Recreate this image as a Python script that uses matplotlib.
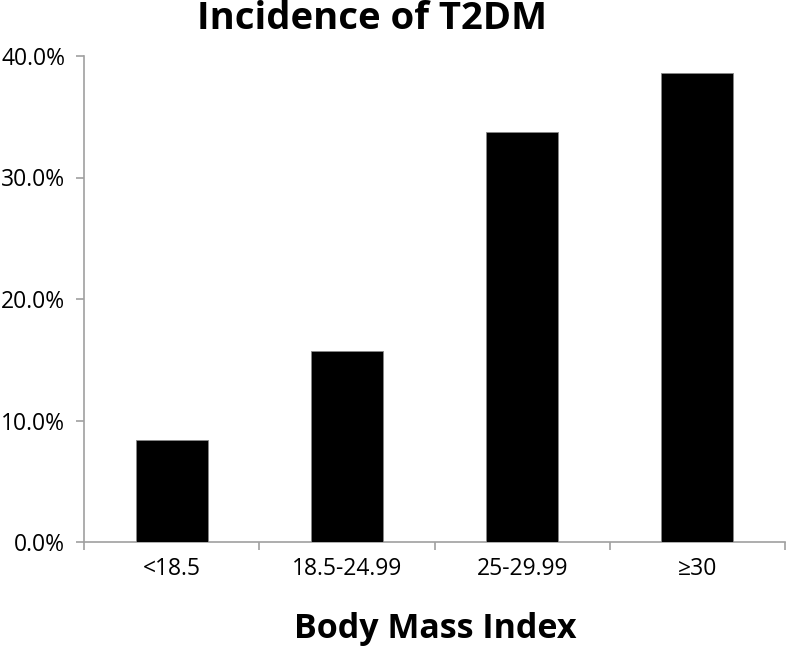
import matplotlib
matplotlib.use("Agg")
import matplotlib.pyplot as plt
from matplotlib.ticker import FuncFormatter, FixedLocator

categories = ["<18.5", "18.5-24.99", "25-29.99", "≥30"]
values = [8.4, 15.7, 33.75, 38.6]
yticks = [0, 10, 20, 30, 40]

plt.rcParams['font.family'] = ['Open Sans', 'DejaVu Sans']

fig = plt.figure(figsize=(7.87, 6.46), dpi=100)
ax = fig.add_axes([84/787, 1-542/646, (785-84)/787, (542-56)/646])

x = list(range(len(categories)))
ax.bar(x, values, width=0.41, color="black", edgecolor="#888888", linewidth=0.6, zorder=3)

ax.set_xlim(-0.5, len(categories)-0.5)
ax.set_ylim(0, 40)
ax.set_yticks(yticks)
ax.yaxis.set_major_formatter(FuncFormatter(lambda v, p: f"{v:.1f}%"))
ax.set_xticks(x)
ax.set_xticklabels(categories, fontsize=16.5)
ax.tick_params(axis='x', which='major', length=0, pad=11)
ax.xaxis.set_minor_locator(FixedLocator([i - 0.5 for i in range(len(categories)+1)]))
ax.tick_params(axis='x', which='minor', length=5.5, color="#A0A0A0", width=1.2)
ax.tick_params(axis='y', length=5.5, color="#A0A0A0", width=1.2, labelsize=16.5, pad=8)

for s in ["top", "right"]:
    ax.spines[s].set_visible(False)
for s in ["left", "bottom"]:
    ax.spines[s].set_color("#A0A0A0")
    ax.spines[s].set_linewidth(1.2)

fig.text(435/787, 1-638/646, "Body Mass Index", fontsize=24.5, fontweight="bold",
         ha="center", va="baseline")
fig.text(372/787, 1-29/646, "Incidence of T2DM", fontsize=27.5, fontweight="bold",
         ha="center", va="baseline")

fig.savefig("out.png", dpi=100)
